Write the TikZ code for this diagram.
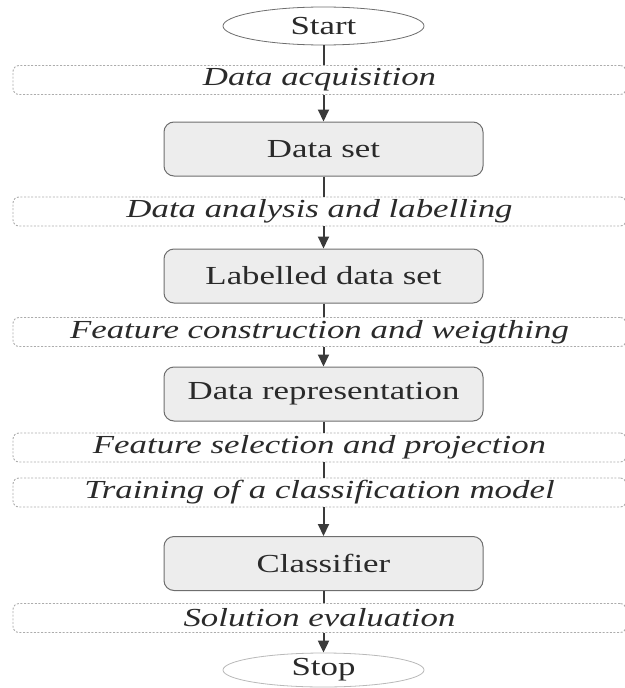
\documentclass[tikz,border=0pt]{standalone}
\usepackage{fontspec}
\setmainfont{Liberation Serif}[FakeStretch=1.34]
\usetikzlibrary{arrows.meta,shapes.geometric}
\definecolor{boxfill}{HTML}{EDEDED}
\definecolor{boxdraw}{HTML}{6E6E6E}
\definecolor{linecol}{HTML}{3A3A3A}
\definecolor{txtcol}{HTML}{2A2A2A}
\tikzset{
  every node/.style={font=\fontsize{26}{30}\selectfont, text=txtcol},
  term/.style={ellipse, draw=boxdraw, line width=0.8pt, fill=white,
    minimum width=201pt, minimum height=38pt, inner sep=0pt},
  stepbox/.style={rectangle, rounded corners=10pt, draw=boxdraw, fill=boxfill,
    line width=1pt, minimum width=319pt, minimum height=54pt, inner sep=0pt},
  phase/.style={rectangle, rounded corners=6pt, draw=gray!65,
    dash pattern=on 2pt off 1.6pt, line width=0.9pt,
    minimum width=613pt, minimum height=29pt, inner sep=0pt,
    font=\fontsize{26}{30}\selectfont\itshape},
  conn/.style={draw=linecol, line width=2pt},
  arr/.style={conn, -{Triangle[length=12pt,width=11pt]}},
}
\begin{document}
\begin{tikzpicture}[x=1pt,y=-1pt]
\useasboundingbox (0,0) rectangle (624,688);
\node[term] (start) at (323.5,26) {Start};
\node[phase] (p1) at (319.5,80) {Data acquisition};
\node[stepbox] (ds) at (323.5,149) {Data set};
\node[phase] (p2) at (319.5,211.5) {Data analysis and labelling};
\node[stepbox] (lds) at (323.5,276) {Labelled data set};
\node[phase] (p3) at (319.5,332) {Feature construction and weigthing};
\node[stepbox] (dr) at (323.5,394) {Data representation};
\node[phase] (p4) at (319.5,447.5) {Feature selection and projection};
\node[phase] (p5) at (319.5,492.5) {Training of a classification model};
\node[stepbox] (cl) at (323.5,563.5) {Classifier};
\node[phase] (p6) at (319.5,618) {Solution evaluation};
\node[term, draw=gray!55, minimum height=34pt] (stop) at (323.5,670) {Stop};

\draw[conn] (start.south) -- (start.south |- p1.north);
\draw[arr] (start.south |- p1.south) -- (ds.north);
\draw[conn] (ds.south) -- (ds.south |- p2.north);
\draw[arr] (ds.south |- p2.south) -- (lds.north);
\draw[conn] (lds.south) -- (lds.south |- p3.north);
\draw[arr] (lds.south |- p3.south) -- (dr.north);
\draw[conn] (dr.south) -- (dr.south |- p4.north);
\draw[conn] (dr.south |- p4.south) -- (dr.south |- p5.north);
\draw[arr] (cl.north |- p5.south) -- (cl.north);
\draw[conn] (cl.south) -- (cl.south |- p6.north);
\draw[arr] (cl.south |- p6.south) -- (stop.north);
\end{tikzpicture}
\end{document}
